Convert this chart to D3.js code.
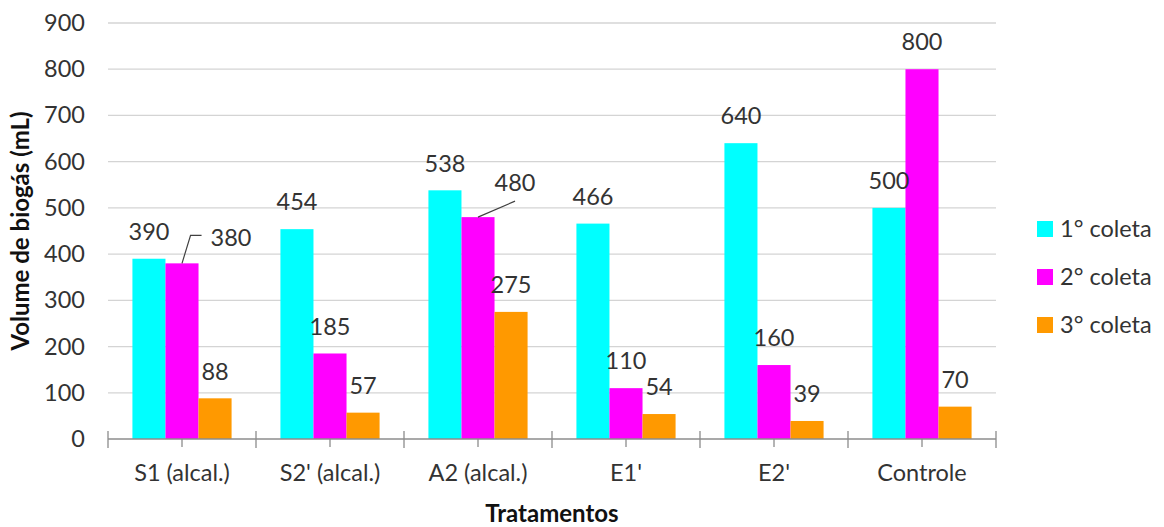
<!DOCTYPE html>
<html>
<head>
<meta charset="utf-8">
<script src="https://cdn.jsdelivr.net/npm/d3@7/dist/d3.min.js"></script>
<style>
  html, body { margin: 0; padding: 0; background: #fff; }
  svg { display: block; font-family: Lato, "Open Sans", sans-serif; }
</style>
</head>
<body>
<svg id="chart" width="1164" height="527"></svg>
<script>
// Biogas volume per treatment, three sampling rounds
const categories = ["S1 (alcal.)", "S2' (alcal.)", "A2 (alcal.)", "E1'", "E2'", "Controle"];
const seriesNames = ["1° coleta", "2° coleta", "3° coleta"];
const coleta1 = [390, 454, 538, 466, 640, 500];
const coleta2 = [380, 185, 480, 110, 160, 800];
const coleta3 = [88, 57, 275, 54, 39, 70];
const yTicks = [0, 100, 200, 300, 400, 500, 600, 700, 800, 900];
const colors = ["#00FFFF", "#FF00FF", "#FF9900"];

// Labels that were dragged away from their bar, with a leader line
const movedLabels = [
  { cat: 0, series: 1, dx: 49, dy: 1, anchor: "left" },
  { cat: 2, series: 1, dx: 37, dy: -7, anchor: "bottom" }
];

const seriesValues = [coleta1, coleta2, coleta3];
const rows = categories.map((c, i) => ({
  cat: c, idx: i,
  values: seriesValues.map((s, k) => ({ series: k, value: s[i], cat: i }))
}));

const svg = d3.select("#chart");
const plotLeft = 108, plotRight = 996, plotTop = 23, plotBottom = 439;
const fontSize = 23.5, titleSize = 24;

const x0 = d3.scaleBand().domain(categories).range([plotLeft, plotRight])
  .paddingInner(0.33).paddingOuter(0.165);
const x1 = d3.scaleBand().domain(d3.range(seriesNames.length)).range([0, x0.bandwidth()]);
const y = d3.scaleLinear().domain([0, 900]).range([plotBottom, plotTop]);

// Gridlines
svg.append("g").selectAll("line").data(yTicks.filter(t => t > 0)).join("line")
  .attr("x1", plotLeft).attr("x2", plotRight)
  .attr("y1", d => y(d)).attr("y2", d => y(d))
  .attr("stroke", "#d4d4d4").attr("stroke-width", 1.3);

// Y axis labels
const yAxis = d3.axisLeft(y).tickValues(yTicks).tickSize(0).tickPadding(23);
const gy = svg.append("g").attr("transform", `translate(${plotLeft},0)`).call(yAxis);
gy.select(".domain").remove();
gy.selectAll("text").attr("font-size", fontSize).attr("fill", "#333")
  .attr("font-family", "Lato, 'Open Sans', sans-serif");

// Bars
const groups = svg.append("g").selectAll("g").data(rows).join("g")
  .attr("transform", d => `translate(${x0(d.cat)},0)`);
groups.selectAll("rect").data(d => d.values).join("rect")
  .attr("x", d => x1(d.series))
  .attr("width", x1.bandwidth())
  .attr("y", d => y(d.value))
  .attr("height", d => y(0) - y(d.value))
  .attr("fill", d => colors[d.series]);

// X axis line and ticks
const step = x0.step();
const gx = svg.append("g");
gx.append("line").attr("x1", plotLeft).attr("x2", plotRight).attr("y1", plotBottom).attr("y2", plotBottom)
  .attr("stroke", "#8c8c8c").attr("stroke-width", 1.3);
const boundaries = d3.range(categories.length + 1).map(i => plotLeft + i * step);
gx.selectAll("line.major").data(boundaries).join("line").attr("class", "major")
  .attr("x1", d => d).attr("x2", d => d).attr("y1", plotBottom - 8).attr("y2", plotBottom + 9)
  .attr("stroke", "#8c8c8c").attr("stroke-width", 1.3);
gx.selectAll("line.minor").data(categories).join("line").attr("class", "minor")
  .attr("x1", d => x0(d) + x0.bandwidth() / 2).attr("x2", d => x0(d) + x0.bandwidth() / 2)
  .attr("y1", plotBottom).attr("y2", plotBottom + 8)
  .attr("stroke", "#8c8c8c").attr("stroke-width", 1.3);
gx.selectAll("text").data(categories).join("text")
  .attr("x", d => x0(d) + x0.bandwidth() / 2).attr("y", 473).attr("dy", "0.35em")
  .attr("text-anchor", "middle").attr("font-size", fontSize).attr("fill", "#333")
  .text(d => d);

// Value labels
const labelLayer = svg.append("g");
rows.forEach(r => r.values.forEach(v => {
  const bx = x0(r.cat) + x1(v.series) + x1.bandwidth() / 2;
  const by = y(v.value);
  const mv = movedLabels.find(m => m.cat === v.cat && m.series === v.series);
  const lx = bx + (mv ? mv.dx : 0);
  const ly = by - 27 + (mv ? mv.dy : 0);
  const t = labelLayer.append("text")
    .attr("x", lx).attr("y", ly).attr("dy", "0.35em")
    .attr("text-anchor", "middle").attr("font-size", fontSize).attr("fill", "#333")
    .text(v.value);
  if (mv) {
    const bb = t.node().getBBox();
    let pts;
    if (mv.anchor === "left") {
      const ex = bb.x - 9;
      pts = [[bx, by], [ex - 11, ly - 2], [ex, ly - 2]];
    } else {
      pts = [[bx, by], [lx, ly + 18]];
    }
    labelLayer.append("path").attr("d", d3.line()(pts))
      .attr("fill", "none").attr("stroke", "#404040").attr("stroke-width", 1.2);
  }
}));

// Axis titles
svg.append("text")
  .attr("transform", `translate(21,${(plotTop + plotBottom) / 2}) rotate(-90)`)
  .attr("dy", "0.35em").attr("text-anchor", "middle")
  .attr("font-size", titleSize).attr("font-weight", "bold").attr("fill", "#111")
  .text("Volume de biogás (mL)");
svg.append("text")
  .attr("x", (plotLeft + plotRight) / 2).attr("y", 514).attr("dy", "0.35em")
  .attr("text-anchor", "middle").attr("font-size", titleSize).attr("font-weight", "bold").attr("fill", "#111")
  .text("Tratamentos");

// Legend
const legend = svg.append("g").selectAll("g").data(seriesNames).join("g")
  .attr("transform", (d, i) => `translate(1037,${229 + i * 48})`);
legend.append("rect").attr("x", 0).attr("y", -8).attr("width", 16).attr("height", 16)
  .attr("fill", (d, i) => colors[i]);
legend.append("text").attr("x", 23).attr("dy", "0.35em")
  .attr("font-size", fontSize).attr("fill", "#333").text(d => d);
</script>
</body>
</html>
